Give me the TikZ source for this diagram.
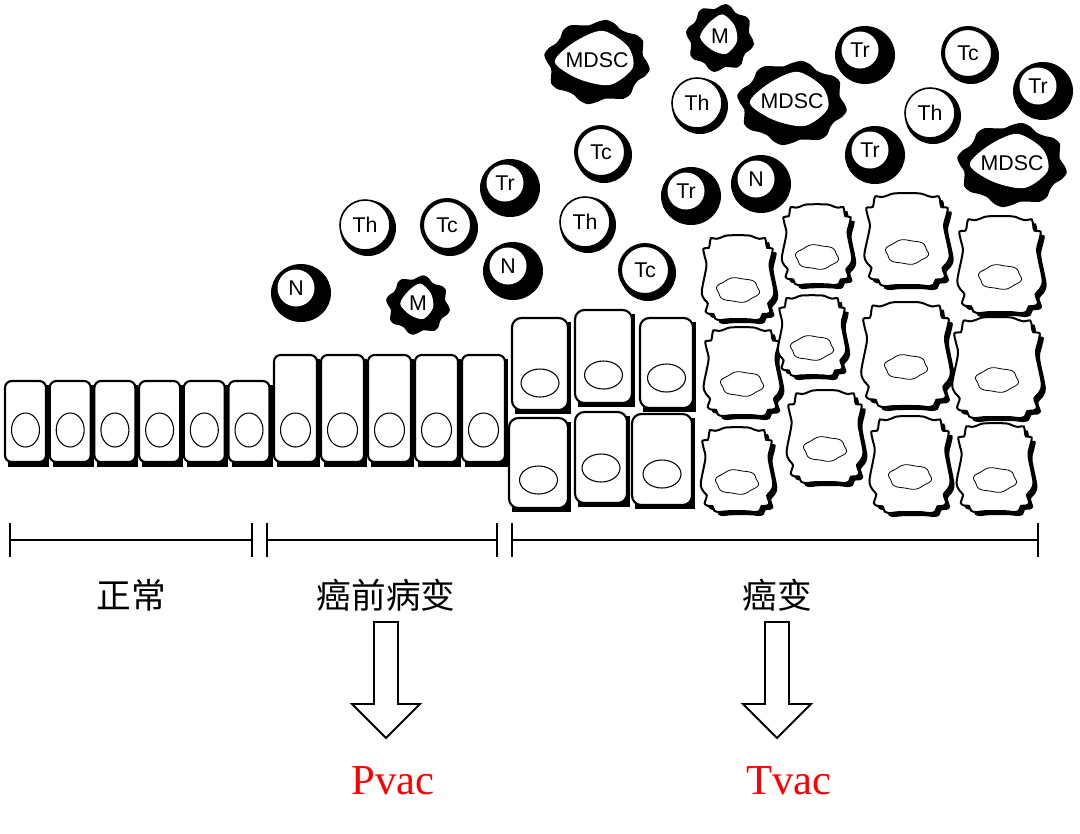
\documentclass[tikz,border=0pt]{standalone}
\usepackage{fontspec}
\setmainfont{Liberation Serif}
\newfontfamily\lsans{Liberation Sans}
\newfontfamily\cjk{Noto Sans CJK SC}
\begin{document}
\begin{tikzpicture}[x=0.75pt,y=-0.75pt,
  lab/.style={font=\lsans\fontsize{16}{16}\selectfont},
  cjkl/.style={font=\cjk\fontsize{26}{26}\selectfont},
  vac/.style={font=\fontsize{32}{32}\selectfont,text=red},
  cellbox/.style={draw,line width=1.6pt,fill=white,rounded corners=5pt},
  nuc/.style={draw,line width=0.8pt},
  bar/.style={line width=1.6pt},
  harrow/.style={draw,line width=1.4pt,fill=white}]
\useasboundingbox (0,0) rectangle (1080,833);
% immune cells
\newcommand\blk[4]{% x y label name
  \fill (#1+3,#2+3) ellipse (30 and 29);
  \fill[white] (#1-2,#2-2) circle (18.5);
  \node[lab] (#4) at (#1-2,#2-2) {#3};}
\newcommand\wht[5]{% x y label name ringwidth
  \fill (#1+3,#2+3) circle (28);
  \fill[white,draw=black,line width=#5] (#1,#2) circle (25);
  \node[lab] (#4) at (#1,#2) {#3};}
\newcommand\blob[9]{% x y rx ry amp label name innerrx innerry
  \fill plot[smooth cycle,samples=36,domain=0:350] ({#1+#3*cos(\x)*(1+#5*sin(8*\x))},{#2+#4*sin(\x)*(1+#5*sin(8*\x))});
  \fill[white] plot[smooth cycle,samples=7,domain=0:308.57] ({#1+#8*cos(\x+20)*(1+0.12*sin(3*\x))},{#2-3+#9*sin(\x+20)*(1+0.12*sin(3*\x))});
  \node[lab] (#7) at (#1,#2-2) {#6};}
\blk{298}{290}{N}{n1}
\blob{418}{305}{30}{28}{0.08}{M}{m1}{16}{17}
\wht{365}{225}{Th}{th1}{1.2pt}
\wht{447}{225}{Tc}{tc1}{3pt}
\blk{507}{185}{Tr}{tr1}
\blk{510}{268}{N}{n2}
\wht{585}{222}{Th}{th2}{1.2pt}
\wht{601}{152}{Tc}{tc2}{3pt}
\wht{645}{270}{Tc}{tc3}{3pt}
\blk{688}{193}{Tr}{tr2}
\blk{758}{181}{N}{n3}
\blob{597}{62}{50}{40}{0.07}{MDSC}{md1}{38}{26}
\blob{720}{38}{32}{32}{0.08}{M}{m2}{18}{19}
\wht{697}{103}{Th}{th3}{1.2pt}
\blob{792}{103}{52}{40}{0.07}{MDSC}{md2}{38}{26}
\blk{862}{52}{Tr}{tr3}
\wht{968}{53}{Tc}{tc4}{3pt}
\blk{1040}{88}{Tr}{tr4}
\wht{930}{113}{Th}{th4}{1.2pt}
\blk{872}{152}{Tr}{tr5}
\blob{1012}{165}{52}{40}{0.07}{MDSC}{md3}{38}{26}
% normal cells
\foreach \i in {0,...,5}{
  \fill (5+\i*44.7+3,381+4) rectangle +(41,82);
  \draw[cellbox] (5+\i*44.7,381) rectangle +(41,81);
  \draw[nuc] (5+\i*44.7+20.5,430) ellipse (14 and 17);}
\foreach \i in {0,...,4}{
  \fill (274+\i*47+3,355+4) rectangle +(43,108);
  \draw[cellbox] (274+\i*47,355) rectangle +(43,107);
  \draw[nuc] (274+\i*47+21.5,430) ellipse (15 and 17);}
% cancer rounded cells
\foreach \xa/\xb/\ya/\yb/\ny in {512/568/318/410/383, 575/632/310/403/375, 640/693/318/408/378,
  509/568/418/508/480, 575/627/412/503/468, 632/692/414/505/474}{
  \fill (\xa+3,\ya+4) rectangle (\xb+3,\yb+4);
  \draw[cellbox,rounded corners=7pt] (\xa,\ya) rectangle (\xb,\yb);
  \draw[nuc] ({(\xa+\xb)/2},\ny) ellipse (19 and 14);}
% tumor cells
\newcommand\tum[4]{%
  \fill plot[smooth cycle,samples=36,domain=5:355] ({#1+4+#3*sign(cos(\x))*abs(cos(\x))^0.5*(1+0.05*sin(11*\x)+0.03*sin(23*\x))},{#2+4+#4*sign(sin(\x))*abs(sin(\x))^0.5*(1+0.05*sin(11*\x)+0.03*sin(23*\x))});
  \draw[line width=1.5pt,fill=white] plot[smooth cycle,samples=36,domain=5:355] ({#1+#3*sign(cos(\x))*abs(cos(\x))^0.5*(1+0.05*sin(11*\x)+0.03*sin(23*\x))},{#2+#4*sign(sin(\x))*abs(sin(\x))^0.5*(1+0.05*sin(11*\x)+0.03*sin(23*\x))});
  \draw[line width=0.6pt] plot[smooth cycle,samples=48,domain=0:352.5] ({#1+21*cos(\x)*(1+0.05*sin(6*\x))},{#2+12+12*sin(\x)*(1+0.05*sin(6*\x))});}
\tum{738}{278}{34}{42}
\tum{742}{372}{36}{44}
\tum{737}{470}{34}{42}
\tum{817}{245}{33}{40}
\tum{812}{336}{32}{40}
\tum{825}{437}{36}{46}
\tum{907}{240}{40}{46}
\tum{906}{355}{42}{52}
\tum{910}{465}{38}{48}
\tum{1000}{265}{40}{48}
\tum{997}{368}{42}{50}
\tum{995}{468}{36}{44}
% scale bars
\coordinate (b1a) at (10,540); \coordinate (b1b) at (252,540);
\coordinate (b2a) at (267,540); \coordinate (b2b) at (497,540);
\coordinate (b3a) at (512,540); \coordinate (b3b) at (1038,540);
\foreach \a/\b in {b1a/b1b,b2a/b2b,b3a/b3b}{
  \draw[bar] (\a) -- (\b);
  \draw[bar] ([yshift=-0.75*17pt]\a) -- ([yshift=0.75*17pt]\a);
  \draw[bar] ([yshift=-0.75*17pt]\b) -- ([yshift=0.75*17pt]\b);}
\node[cjkl] (t1) at (131,595) {正常};
\node[cjkl] (t2) at (386,595) {癌前病变};
\node[cjkl] (t3) at (777,595) {癌变};
% hollow arrows
\foreach \cx in {386,777}{
  \draw[harrow] (\cx-12,622) -- (\cx+12,622) -- (\cx+12,704) -- (\cx+34,704) -- (\cx,738) -- (\cx-34,704) -- (\cx-12,704) -- cycle;}
\node[vac] (pv) at (393,781) {Pvac};
\node[vac] (tv) at (789,781) {Tvac};
\end{tikzpicture}
\end{document}
